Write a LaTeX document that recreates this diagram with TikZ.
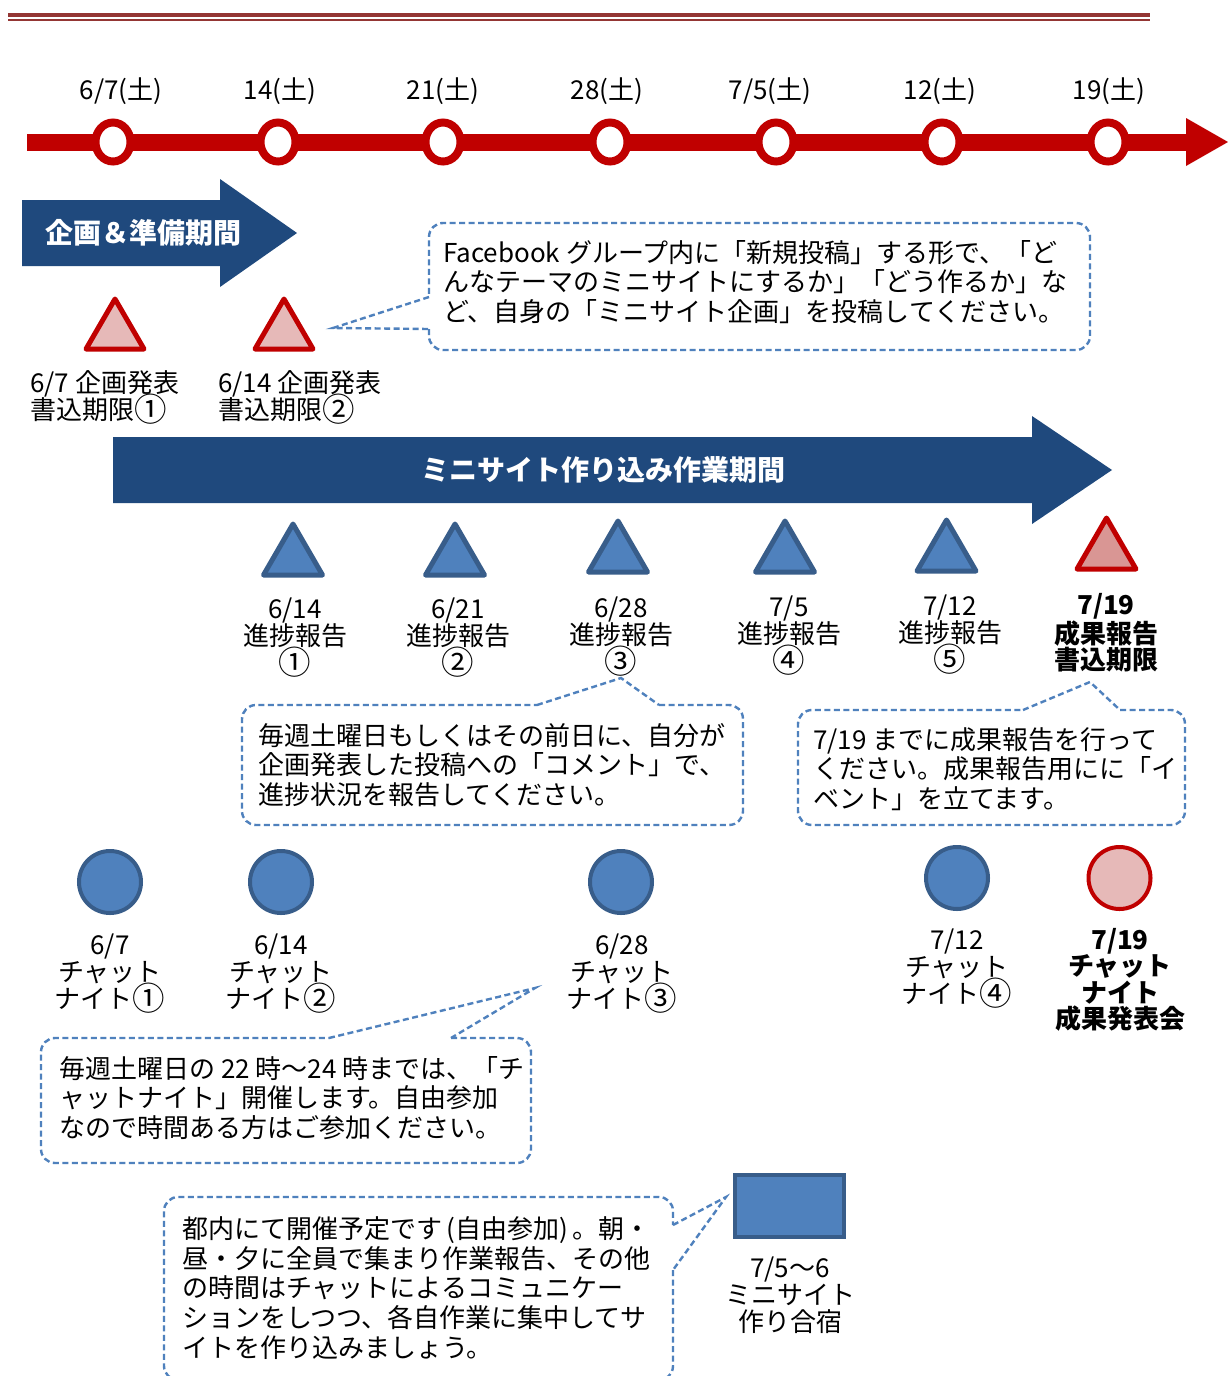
\documentclass[tikz,border=0pt]{standalone}
\usepackage{fontspec}
\usepackage{graphicx}
\setmainfont{Noto Sans CJK JP}
\usetikzlibrary{shapes.geometric}
\definecolor{hdrred}{HTML}{943634}
\definecolor{tred}{HTML}{C00000}
\definecolor{navy}{HTML}{1F497D}
\definecolor{bfill}{HTML}{4F81BD}
\definecolor{bedge}{HTML}{385D8A}
\definecolor{pfill}{HTML}{E6B9B8}
\definecolor{pfilldark}{HTML}{D99694}
\definecolor{cblue}{HTML}{4F81BD}
\newcommand\circnum[1]{\raisebox{-0.1em}[0.8em][0.1em]{\scalebox{1.25}{#1}}}
\begin{document}
\begin{tikzpicture}[x=1pt,y=-1pt,
 lab/.style={font=\fontsize{26}{27}\selectfont, align=center, inner sep=0pt},
 blab/.style={font=\fontsize{26}{26.5}\bfseries\selectfont, align=center, inner sep=0pt},
 ctext/.style={font=\fontsize{26}{29.7}\selectfont, align=left, inner sep=0pt, anchor=west},
 callout/.style={draw=cblue, line width=2.4pt, dash pattern=on 6pt off 3.5pt},
 rc/.style={rounded corners=14pt},
 tnode/.style={ellipse, draw=tred, fill=white, line width=8pt, minimum width=35pt, minimum height=39pt, inner sep=0pt},
 rtri/.style={draw=tred, fill=pfill, line width=5pt, line join=round},
 btri/.style={draw=bedge, fill=bfill, line width=5pt, line join=round},
 bcirc/.style={circle, draw=bedge, fill=bfill, line width=4pt, minimum size=62pt, inner sep=0pt},
 arrowtext/.style={font=\fontsize{28}{30}\bfseries\selectfont, text=white, inner sep=0pt},
]
\useasboundingbox (0,0) rectangle (1228,1376);
\fill[white] (0,0) rectangle (1228,1376);

% header rule
\draw[hdrred, line width=3.5pt] (8,15) -- (1150,15);
\draw[hdrred, line width=1.8pt] (8,20) -- (1150,20);

% timeline
\fill[tred] (27,133.5) rectangle (1190,150.5);
\fill[tred] (1186,118) -- (1228,142) -- (1186,166) -- cycle;
\node[tnode] (t1) at (113,142) {};
\node[tnode] (t2) at (278,142) {};
\node[tnode] (t3) at (443,142) {};
\node[tnode] (t4) at (610,142) {};
\node[tnode] (t5) at (776,142) {};
\node[tnode] (t6) at (942,142) {};
\node[tnode] (t7) at (1108,142) {};
\node[lab] (d1) at (121,91) {6/7(土)};
\node[lab] (d2) at (280,91) {14(土)};
\node[lab] (d3) at (443,91) {21(土)};
\node[lab] (d4) at (607,91) {28(土)};
\node[lab] (d5) at (770,91) {7/5(土)};
\node[lab] (d6) at (940,91) {12(土)};
\node[lab] (d7) at (1109,91) {19(土)};

% planning arrow
\fill[navy] (22,200) -- (220,200) -- (220,179) -- (297,233) -- (220,287) -- (220,266) -- (22,266) -- cycle;
\node[arrowtext] (plan) at (143,233) {企画＆準備期間};

% red triangles
\draw[rtri] (115,299) -- ++(29,50) -- ++(-58,0) -- cycle;
\draw[rtri] (284,299) -- ++(29,50) -- ++(-58,0) -- cycle;
\node[lab, align=left, anchor=west] (k1) at (30,396) {6/7 企画発表\\書込期限\circnum{①}};
\node[lab, align=left, anchor=west] (k2) at (218,396) {6/14 企画発表\\書込期限\circnum{②}};

% callout 1
\draw[callout, rc] (429,329) -- (429,350) -- (1090,350) -- (1090,223) -- (429,223) -- (429,297);
\draw[callout] (429,297) -- (333,328) -- (429,329);
\node[ctext] (n1) at (443,282) {Facebook グループ内に「新規投稿」する形で、「ど\\んなテーマのミニサイトにするか」「どう作るか」な\\ど、自身の「ミニサイト企画」を投稿してください。};

% work arrow
\fill[navy] (113,437) -- (1032,437) -- (1032,416) -- (1112,470) -- (1032,524) -- (1032,503) -- (113,503) -- cycle;
\node[arrowtext] (work) at (603,470) {ミニサイト作り込み作業期間};

% progress triangles
\draw[btri] (293,524) -- ++(29.5,51) -- ++(-59,0) -- cycle;
\draw[btri] (455,524) -- ++(29.5,51) -- ++(-59,0) -- cycle;
\draw[btri] (618,521) -- ++(29.5,51) -- ++(-59,0) -- cycle;
\draw[btri] (785,521) -- ++(29.5,51) -- ++(-59,0) -- cycle;
\draw[btri] (946.5,520) -- ++(29.5,51) -- ++(-59,0) -- cycle;
\draw[rtri, fill=pfilldark] (1106.5,518) -- ++(29.5,51) -- ++(-59,0) -- cycle;
\node[lab] (p1) at (295,636) {6/14\\進捗報告\\\circnum{①}};
\node[lab] (p2) at (458,636) {6/21\\進捗報告\\\circnum{②}};
\node[lab] (p3) at (621,635) {6/28\\進捗報告\\\circnum{③}};
\node[lab] (p4) at (789,634) {7/5\\進捗報告\\\circnum{④}};
\node[lab] (p5) at (950,633) {7/12\\進捗報告\\\circnum{⑤}};
\node[blab] (p6) at (1106,633) {7/19\\成果報告\\書込期限};

% callout 2
\draw[callout, rc] (659,705) -- (743,705) -- (743,825) -- (242,825) -- (242,705) -- (537,705);
\draw[callout] (537,705) -- (621,678) -- (659,705);
\node[ctext] (n2) at (258,765) {毎週土曜日もしくはその前日に、自分が\\企画発表した投稿への「コメント」で、\\進捗状況を報告してください。};

% callout 3
\draw[callout, rc] (1120,710) -- (1185,710) -- (1185,825) -- (798,825) -- (798,710) -- (1023,710);
\draw[callout] (1023,710) -- (1090,682) -- (1120,710);
\node[ctext] (n3) at (813,769) {7/19 までに成果報告を行って\\ください。成果報告用にに「イ\\ベント」を立てます。};

% chat night circles
\node[bcirc] (c1) at (110,882) {};
\node[bcirc] (c2) at (281,882) {};
\node[bcirc] (c3) at (621,882) {};
\node[bcirc] (c4) at (957,878) {};
\node[bcirc, draw=tred, fill=pfill] (c5) at (1119.5,878) {};
\node[lab] (h1) at (110,972) {6/7\\チャット\\ナイト\circnum{①}};
\node[lab] (h2) at (281,972) {6/14\\チャット\\ナイト\circnum{②}};
\node[lab] (h3) at (622,972) {6/28\\チャット\\ナイト\circnum{③}};
\node[lab] (h4) at (957,967) {7/12\\チャット\\ナイト\circnum{④}};
\node[blab] (h5) at (1120,980) {7/19\\チャット\\ナイト\\成果発表会};

% callout 4
\draw[callout, rc] (451,1038) -- (531,1038) -- (531,1163) -- (41,1163) -- (41,1038) -- (329,1038);
\draw[callout] (329,1038) -- (535,988) -- (451,1038);
\node[ctext] (n4) at (59,1098) {毎週土曜日の 22 時～24 時までは、「チ\\ャットナイト」開催します。自由参加\\なので時間ある方はご参加ください。};

% camp
\node[draw=bedge, fill=bfill, line width=4pt, minimum width=109pt, minimum height=62pt, inner sep=0pt] (r1) at (789.5,1206) {};
\node[lab] (r1lab) at (790,1295) {7/5～6\\ミニサイト\\作り合宿};

% callout 5
\draw[callout, rc] (673,1270) -- (673,1380) -- (164,1380) -- (164,1197) -- (673,1197) -- (673,1225);
\draw[callout] (673,1225) -- (726,1197) -- (673,1270);
\node[ctext] (n5) at (182,1288) {都内にて開催予定です\,(自由参加)\,。朝・\\昼・夕に全員で集まり作業報告、その他\\の時間はチャットによるコミュニケー\\ションをしつつ、各自作業に集中してサ\\イトを作り込みましょう。};
\end{tikzpicture}
\end{document}
